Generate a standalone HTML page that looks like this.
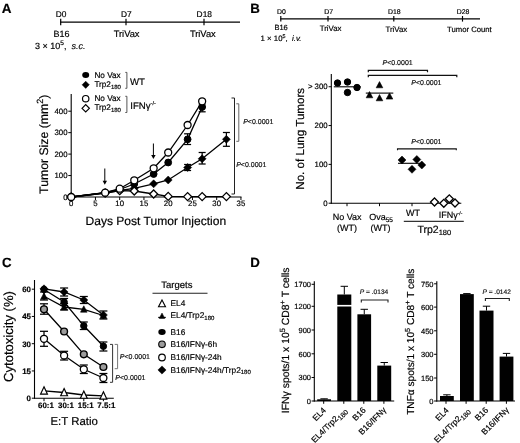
<!DOCTYPE html>
<html><head><meta charset="utf-8"><title>Figure</title>
<style>
html,body{margin:0;padding:0;background:#fff;}
body{width:520px;height:443px;overflow:hidden;}
svg{display:block;font-family:"Liberation Sans",sans-serif;opacity:0.999;will-change:transform;}
svg text{white-space:pre;stroke:#000;stroke-width:0.18px;text-rendering:geometricPrecision;}
</style></head><body>
<svg width="520" height="443" viewBox="0 0 520 443">
<rect width="520" height="443" fill="#fff"/>
<text x="1.8" y="13.3" font-size="13.5" text-anchor="start" font-weight="bold" font-style="normal" fill="#000" >A</text>
<line x1="60.2" y1="22.1" x2="240" y2="22.1" stroke="#000" stroke-width="1.3" />
<line x1="60.7" y1="18.8" x2="60.7" y2="25.2" stroke="#000" stroke-width="1.2" />
<text x="61.0" y="17" font-size="8.4" text-anchor="middle" font-weight="normal" font-style="normal" fill="#000" >D0</text>
<line x1="126" y1="18.8" x2="126" y2="25.2" stroke="#000" stroke-width="1.2" />
<text x="126.3" y="17" font-size="8.4" text-anchor="middle" font-weight="normal" font-style="normal" fill="#000" >D7</text>
<line x1="204" y1="18.8" x2="204" y2="25.2" stroke="#000" stroke-width="1.2" />
<text x="204.3" y="17" font-size="8.4" text-anchor="middle" font-weight="normal" font-style="normal" fill="#000" >D18</text>
<text x="61.5" y="37" font-size="9" text-anchor="middle" font-weight="normal" font-style="normal" fill="#000" >B16</text>
<text x="126.6" y="37" font-size="9.3" text-anchor="middle" font-weight="normal" font-style="normal" fill="#000" >TriVax</text>
<text x="202.8" y="37" font-size="9.3" text-anchor="middle" font-weight="normal" font-style="normal" fill="#000" >TriVax</text>
<text x="35" y="48.7" font-size="9" text-anchor="start" font-weight="normal" font-style="normal" fill="#000" >3 × 10<tspan font-size="6.5" dy="-3.5">5</tspan><tspan dy="3.5" font-size="9">, </tspan><tspan font-style="italic" font-size="9"> s.c.</tspan></text>
<ellipse cx="85.7" cy="75" rx="3.5" ry="2.9" fill="#000"/>
<text x="94.4" y="77.5" font-size="8.2" text-anchor="start" font-weight="normal" font-style="normal" fill="#000" >No Vax</text>
<path d="M82.10000000000001 84.8L85.7 81.2L89.3 84.8L85.7 88.39999999999999Z" fill="#000" stroke="#000" stroke-width="0.5"/>
<text x="94.4" y="87.3" font-size="8.2" text-anchor="start" font-weight="normal" font-style="normal" fill="#000" >Trp2<tspan font-size="6" dy="1.8">180</tspan></text>
<polyline points="125.3,72.4 126.9,72.4 126.9,88.3 125.3,88.3" fill="none" stroke="#555" stroke-width="1"/>
<text x="130" y="84.7" font-size="9.6" text-anchor="start" font-weight="normal" font-style="normal" fill="#000" >WT</text>
<circle cx="85.7" cy="98.7" r="3.2" fill="#fff" stroke="#000" stroke-width="1.2"/>
<text x="94.4" y="100.6" font-size="8.2" text-anchor="start" font-weight="normal" font-style="normal" fill="#000" >No Vax</text>
<path d="M82.0 108.3L85.7 104.6L89.4 108.3L85.7 112.0Z" fill="#fff" stroke="#000" stroke-width="1.2"/>
<text x="94.4" y="110.3" font-size="8.2" text-anchor="start" font-weight="normal" font-style="normal" fill="#000" >Trp2<tspan font-size="6" dy="1.8">180</tspan></text>
<polyline points="125.3,96.3 126.9,96.3 126.9,112.5 125.3,112.5" fill="none" stroke="#555" stroke-width="1"/>
<text x="130.3" y="108.7" font-size="9.6" text-anchor="start" font-weight="normal" font-style="normal" fill="#000" >IFNγ<tspan font-size="5.5" dy="-4">-/-</tspan></text>
<line x1="71.2" y1="94" x2="71.2" y2="197.5" stroke="#000" stroke-width="1.1" />
<line x1="70.7" y1="197" x2="241.5" y2="197" stroke="#000" stroke-width="1.1" />
<line x1="68.3" y1="197.0" x2="71.2" y2="197.0" stroke="#000" stroke-width="1" />
<text x="67.5" y="199.8" font-size="7.8" text-anchor="end" font-weight="normal" font-style="normal" fill="#000" >0</text>
<line x1="68.3" y1="175.55" x2="71.2" y2="175.55" stroke="#000" stroke-width="1" />
<text x="67.5" y="178.35000000000002" font-size="7.8" text-anchor="end" font-weight="normal" font-style="normal" fill="#000" >100</text>
<line x1="68.3" y1="154.1" x2="71.2" y2="154.1" stroke="#000" stroke-width="1" />
<text x="67.5" y="156.9" font-size="7.8" text-anchor="end" font-weight="normal" font-style="normal" fill="#000" >200</text>
<line x1="68.3" y1="132.65" x2="71.2" y2="132.65" stroke="#000" stroke-width="1" />
<text x="67.5" y="135.45000000000002" font-size="7.8" text-anchor="end" font-weight="normal" font-style="normal" fill="#000" >300</text>
<line x1="68.3" y1="111.2" x2="71.2" y2="111.2" stroke="#000" stroke-width="1" />
<text x="67.5" y="114.0" font-size="7.8" text-anchor="end" font-weight="normal" font-style="normal" fill="#000" >400</text>
<line x1="71.2" y1="197" x2="71.2" y2="200" stroke="#000" stroke-width="1" />
<text x="71.2" y="206.4" font-size="7.8" text-anchor="middle" font-weight="normal" font-style="normal" fill="#000" >0</text>
<line x1="95.45" y1="197" x2="95.45" y2="200" stroke="#000" stroke-width="1" />
<text x="95.45" y="206.4" font-size="7.8" text-anchor="middle" font-weight="normal" font-style="normal" fill="#000" >5</text>
<line x1="119.7" y1="197" x2="119.7" y2="200" stroke="#000" stroke-width="1" />
<text x="119.7" y="206.4" font-size="7.8" text-anchor="middle" font-weight="normal" font-style="normal" fill="#000" >10</text>
<line x1="143.95" y1="197" x2="143.95" y2="200" stroke="#000" stroke-width="1" />
<text x="143.95" y="206.4" font-size="7.8" text-anchor="middle" font-weight="normal" font-style="normal" fill="#000" >15</text>
<line x1="168.2" y1="197" x2="168.2" y2="200" stroke="#000" stroke-width="1" />
<text x="168.2" y="206.4" font-size="7.8" text-anchor="middle" font-weight="normal" font-style="normal" fill="#000" >20</text>
<line x1="192.45" y1="197" x2="192.45" y2="200" stroke="#000" stroke-width="1" />
<text x="192.45" y="206.4" font-size="7.8" text-anchor="middle" font-weight="normal" font-style="normal" fill="#000" >25</text>
<line x1="216.7" y1="197" x2="216.7" y2="200" stroke="#000" stroke-width="1" />
<text x="216.7" y="206.4" font-size="7.8" text-anchor="middle" font-weight="normal" font-style="normal" fill="#000" >30</text>
<line x1="240.95" y1="197" x2="240.95" y2="200" stroke="#000" stroke-width="1" />
<text x="240.95" y="206.4" font-size="7.8" text-anchor="middle" font-weight="normal" font-style="normal" fill="#000" >35</text>
<text x="0" y="0" font-size="12.25" text-anchor="middle" font-weight="normal" font-style="normal" fill="#000" transform="translate(48.3,144.3) rotate(-90)">Tumor Size (mm<tspan font-size="9" dy="-5.2">2</tspan><tspan dy="5.2" font-size="12.25">)</tspan></text>
<text x="85.5" y="225" font-size="12.05" text-anchor="start" font-weight="normal" font-style="normal" fill="#000" >Days Post Tumor Injection</text>
<line x1="104.8" y1="168.5" x2="104.8" y2="182.8" stroke="#000" stroke-width="1" />
<path d="M102.6 180.8L104.8 184.8L107.0 180.8Z" fill="#000"/>
<line x1="153.4" y1="143.5" x2="153.4" y2="157" stroke="#000" stroke-width="1" />
<path d="M151.20000000000002 155L153.4 159L155.6 155Z" fill="#000"/>
<polyline points="71.2,197 105.15,193 119.7,190.5 134.25,188.3 153.65,183.8 168.2,180 187.6,167.5 202.15,158.8 226.4,139.3" fill="none" stroke="#000" stroke-width="1.3"/>
<polyline points="71.2,197 105.15,192.7 119.7,189.5 134.25,184 153.65,174 168.2,162.5 187.6,139.3 202.15,107" fill="none" stroke="#000" stroke-width="1.3"/>
<polyline points="71.2,197 105.15,192.7 119.7,188.7 134.25,180.3 153.65,168.3 168.2,152.5 187.6,125 202.15,101.3" fill="none" stroke="#000" stroke-width="1.3"/>
<polyline points="71.2,197 105.15,193 119.7,190.7 134.25,191 153.65,194 168.2,196.4 187.6,196.6 202.15,196.6 226.4,196.6" fill="none" stroke="#000" stroke-width="1.3"/>
<line x1="187.6" y1="164.5" x2="187.6" y2="170.5" stroke="#000" stroke-width="1.25" />
<line x1="184.1" y1="164.5" x2="191.1" y2="164.5" stroke="#000" stroke-width="1.25" />
<line x1="184.1" y1="170.5" x2="191.1" y2="170.5" stroke="#000" stroke-width="1.25" />
<line x1="202.15" y1="152.5" x2="202.15" y2="164" stroke="#000" stroke-width="1.25" />
<line x1="198.65" y1="152.5" x2="205.65" y2="152.5" stroke="#000" stroke-width="1.25" />
<line x1="198.65" y1="164" x2="205.65" y2="164" stroke="#000" stroke-width="1.25" />
<line x1="226.4" y1="132.5" x2="226.4" y2="146.3" stroke="#000" stroke-width="1.25" />
<line x1="222.9" y1="132.5" x2="229.9" y2="132.5" stroke="#000" stroke-width="1.25" />
<line x1="222.9" y1="146.3" x2="229.9" y2="146.3" stroke="#000" stroke-width="1.25" />
<line x1="187.6" y1="133.8" x2="187.6" y2="144.5" stroke="#000" stroke-width="1.25" />
<line x1="184.1" y1="133.8" x2="191.1" y2="133.8" stroke="#000" stroke-width="1.25" />
<line x1="184.1" y1="144.5" x2="191.1" y2="144.5" stroke="#000" stroke-width="1.25" />
<line x1="202.15" y1="104" x2="202.15" y2="111.8" stroke="#000" stroke-width="1.25" />
<line x1="198.65" y1="104" x2="205.65" y2="104" stroke="#000" stroke-width="1.25" />
<line x1="198.65" y1="111.8" x2="205.65" y2="111.8" stroke="#000" stroke-width="1.25" />
<path d="M67.2 197L71.2 193L75.2 197L71.2 201Z" fill="#000" stroke="#000" stroke-width="0.5"/>
<path d="M101.15 193L105.15 189L109.15 193L105.15 197Z" fill="#000" stroke="#000" stroke-width="0.5"/>
<path d="M115.7 190.5L119.7 186.5L123.7 190.5L119.7 194.5Z" fill="#000" stroke="#000" stroke-width="0.5"/>
<path d="M130.25 188.3L134.25 184.3L138.25 188.3L134.25 192.3Z" fill="#000" stroke="#000" stroke-width="0.5"/>
<path d="M149.65 183.8L153.65 179.8L157.65 183.8L153.65 187.8Z" fill="#000" stroke="#000" stroke-width="0.5"/>
<path d="M164.2 180L168.2 176L172.2 180L168.2 184Z" fill="#000" stroke="#000" stroke-width="0.5"/>
<path d="M183.6 167.5L187.6 163.5L191.6 167.5L187.6 171.5Z" fill="#000" stroke="#000" stroke-width="0.5"/>
<path d="M198.15 158.8L202.15 154.8L206.15 158.8L202.15 162.8Z" fill="#000" stroke="#000" stroke-width="0.5"/>
<path d="M222.4 139.3L226.4 135.3L230.4 139.3L226.4 143.3Z" fill="#000" stroke="#000" stroke-width="0.5"/>
<circle cx="71.2" cy="197" r="3.4" fill="#000" stroke="#000" stroke-width="1"/>
<circle cx="105.15" cy="192.7" r="3.4" fill="#000" stroke="#000" stroke-width="1"/>
<circle cx="119.7" cy="189.5" r="3.4" fill="#000" stroke="#000" stroke-width="1"/>
<circle cx="134.25" cy="184" r="3.4" fill="#000" stroke="#000" stroke-width="1"/>
<circle cx="153.65" cy="174" r="3.4" fill="#000" stroke="#000" stroke-width="1"/>
<circle cx="168.2" cy="162.5" r="3.4" fill="#000" stroke="#000" stroke-width="1"/>
<circle cx="187.6" cy="139.3" r="3.4" fill="#000" stroke="#000" stroke-width="1"/>
<circle cx="202.15" cy="107" r="3.4" fill="#000" stroke="#000" stroke-width="1"/>
<path d="M67.2 197L71.2 193L75.2 197L71.2 201Z" fill="#fff" stroke="#000" stroke-width="1.3"/>
<path d="M101.15 193L105.15 189L109.15 193L105.15 197Z" fill="#fff" stroke="#000" stroke-width="1.3"/>
<path d="M115.7 190.7L119.7 186.7L123.7 190.7L119.7 194.7Z" fill="#fff" stroke="#000" stroke-width="1.3"/>
<path d="M130.25 191L134.25 187L138.25 191L134.25 195Z" fill="#fff" stroke="#000" stroke-width="1.3"/>
<path d="M149.65 194L153.65 190L157.65 194L153.65 198Z" fill="#fff" stroke="#000" stroke-width="1.3"/>
<path d="M164.2 196.4L168.2 192.4L172.2 196.4L168.2 200.4Z" fill="#fff" stroke="#000" stroke-width="1.3"/>
<path d="M183.6 196.6L187.6 192.6L191.6 196.6L187.6 200.6Z" fill="#fff" stroke="#000" stroke-width="1.3"/>
<path d="M198.15 196.6L202.15 192.6L206.15 196.6L202.15 200.6Z" fill="#fff" stroke="#000" stroke-width="1.3"/>
<path d="M222.4 196.6L226.4 192.6L230.4 196.6L226.4 200.6Z" fill="#fff" stroke="#000" stroke-width="1.3"/>
<circle cx="71.2" cy="197" r="3.5" fill="#fff" stroke="#000" stroke-width="1.3"/>
<circle cx="105.15" cy="192.7" r="3.5" fill="#fff" stroke="#000" stroke-width="1.3"/>
<circle cx="119.7" cy="188.7" r="3.5" fill="#fff" stroke="#000" stroke-width="1.3"/>
<circle cx="134.25" cy="180.3" r="3.5" fill="#fff" stroke="#000" stroke-width="1.3"/>
<circle cx="153.65" cy="168.3" r="3.5" fill="#fff" stroke="#000" stroke-width="1.3"/>
<circle cx="168.2" cy="152.5" r="3.5" fill="#fff" stroke="#000" stroke-width="1.3"/>
<circle cx="187.6" cy="125" r="3.5" fill="#fff" stroke="#000" stroke-width="1.3"/>
<circle cx="202.15" cy="101.3" r="3.5" fill="#fff" stroke="#000" stroke-width="1.3"/>
<polyline points="231.5,98 234.5,98 234.5,194 231.5,194" fill="none" stroke="#222" stroke-width="1"/>
<polyline points="236.3,103.8 238.8,103.8 238.8,141.3 236.3,141.3" fill="none" stroke="#666" stroke-width="1"/>
<text x="243.2" y="123.6" font-size="7" text-anchor="start" font-weight="normal" font-style="normal" fill="#222" ><tspan font-style="italic">P</tspan>&lt;0.0001</text>
<text x="236.2" y="167" font-size="7" text-anchor="start" font-weight="normal" font-style="normal" fill="#222" ><tspan font-style="italic">P</tspan>&lt;0.0001</text>
<text x="250.3" y="12.6" font-size="13.3" text-anchor="start" font-weight="bold" font-style="normal" fill="#000" >B</text>
<line x1="280.3" y1="18.8" x2="480" y2="18.8" stroke="#000" stroke-width="1.25" />
<line x1="280.8" y1="16" x2="280.8" y2="21.6" stroke="#000" stroke-width="1.15" />
<text x="281.40000000000003" y="13.8" font-size="6.9" text-anchor="middle" font-weight="normal" font-style="normal" fill="#000" >D0</text>
<line x1="328" y1="16" x2="328" y2="21.6" stroke="#000" stroke-width="1.15" />
<text x="328.6" y="13.8" font-size="6.9" text-anchor="middle" font-weight="normal" font-style="normal" fill="#000" >D7</text>
<line x1="393.8" y1="16" x2="393.8" y2="21.6" stroke="#000" stroke-width="1.15" />
<text x="394.40000000000003" y="13.8" font-size="6.9" text-anchor="middle" font-weight="normal" font-style="normal" fill="#000" >D18</text>
<line x1="462.5" y1="16" x2="462.5" y2="21.6" stroke="#000" stroke-width="1.15" />
<text x="463.1" y="13.8" font-size="6.9" text-anchor="middle" font-weight="normal" font-style="normal" fill="#000" >D28</text>
<text x="281.1" y="30.0" font-size="7.5" text-anchor="middle" font-weight="normal" font-style="normal" fill="#000" >B16</text>
<text x="330.6" y="30.8" font-size="7.8" text-anchor="middle" font-weight="normal" font-style="normal" fill="#000" >TriVax</text>
<text x="396.3" y="31.5" font-size="7.8" text-anchor="middle" font-weight="normal" font-style="normal" fill="#000" >TriVax</text>
<text x="469.4" y="31.7" font-size="7.7" text-anchor="middle" font-weight="normal" font-style="normal" fill="#000" >Tumor Count</text>
<text x="260.6" y="41.2" font-size="7.8" text-anchor="start" font-weight="normal" font-style="normal" fill="#000" >1 × 10<tspan font-size="5.4" dy="-3">5</tspan><tspan dy="3" font-size="7.8">, </tspan><tspan font-style="italic" font-size="7.8"> i.v.</tspan></text>
<line x1="331.3" y1="74" x2="331.3" y2="203.7" stroke="#000" stroke-width="1.1" />
<line x1="330.8" y1="203.2" x2="461.3" y2="203.2" stroke="#000" stroke-width="1.1" />
<line x1="328.6" y1="203.2" x2="331.3" y2="203.2" stroke="#000" stroke-width="1" />
<text x="327.6" y="205.89999999999998" font-size="7.8" text-anchor="end" font-weight="normal" font-style="normal" fill="#000" >0</text>
<line x1="328.6" y1="164.38" x2="331.3" y2="164.38" stroke="#000" stroke-width="1" />
<text x="327.6" y="167.07999999999998" font-size="7.8" text-anchor="end" font-weight="normal" font-style="normal" fill="#000" >100</text>
<line x1="328.6" y1="125.56" x2="331.3" y2="125.56" stroke="#000" stroke-width="1" />
<text x="327.6" y="128.26" font-size="7.8" text-anchor="end" font-weight="normal" font-style="normal" fill="#000" >200</text>
<line x1="328.6" y1="86.74" x2="331.3" y2="86.74" stroke="#000" stroke-width="1" />
<text x="327.6" y="89.44" font-size="7.8" text-anchor="end" font-weight="normal" font-style="normal" fill="#000" >300</text>
<text x="308" y="88.75" font-size="7.8" text-anchor="start" font-weight="normal" font-style="normal" fill="#000" >&gt;</text>
<line x1="347" y1="203.2" x2="347" y2="206.2" stroke="#000" stroke-width="1" />
<line x1="379.5" y1="203.2" x2="379.5" y2="206.2" stroke="#000" stroke-width="1" />
<line x1="412" y1="203.2" x2="412" y2="206.2" stroke="#000" stroke-width="1" />
<line x1="444.5" y1="203.2" x2="444.5" y2="206.2" stroke="#000" stroke-width="1" />
<text x="0" y="0" font-size="11.6" text-anchor="middle" font-weight="normal" font-style="normal" fill="#000" transform="translate(304.3,138.8) rotate(-90)">No. of Lung Tumors</text>
<text x="347.2" y="220" font-size="9" text-anchor="middle" font-weight="normal" font-style="normal" fill="#000" >No Vax</text>
<text x="347" y="230.6" font-size="9" text-anchor="middle" font-weight="normal" font-style="normal" fill="#000" >(WT)</text>
<text x="381" y="220" font-size="9" text-anchor="middle" font-weight="normal" font-style="normal" fill="#000" >Ova<tspan font-size="6.5" dy="1.8">55</tspan></text>
<text x="380.6" y="230.6" font-size="9" text-anchor="middle" font-weight="normal" font-style="normal" fill="#000" >(WT)</text>
<text x="413" y="216.3" font-size="9" text-anchor="middle" font-weight="normal" font-style="normal" fill="#000" >WT</text>
<text x="438.7" y="218" font-size="9" text-anchor="start" font-weight="normal" font-style="normal" fill="#000" >IFNγ<tspan font-size="5" dy="-3.5">-/-</tspan></text>
<line x1="403.8" y1="221.3" x2="463.8" y2="221.3" stroke="#000" stroke-width="1" />
<text x="417.5" y="232.8" font-size="10.5" text-anchor="start" font-weight="normal" font-style="normal" fill="#000" >Trp2<tspan font-size="7.5" dy="2">180</tspan></text>
<line x1="333.8" y1="86.8" x2="360.8" y2="86.8" stroke="#000" stroke-width="1.1" />
<circle cx="337.5" cy="83" r="3.2" fill="#000" stroke="#000" stroke-width="1"/>
<circle cx="347.5" cy="82" r="3.2" fill="#000" stroke="#000" stroke-width="1"/>
<circle cx="347.5" cy="92.5" r="3.2" fill="#000" stroke="#000" stroke-width="1"/>
<circle cx="357" cy="87.5" r="3.2" fill="#000" stroke="#000" stroke-width="1"/>
<line x1="365.8" y1="93.1" x2="393.3" y2="93.1" stroke="#000" stroke-width="1.1" />
<path d="M379.5 81.59L382.8 87.79L376.2 87.79Z" fill="#000" stroke="#000" stroke-width="0.6" stroke-linejoin="miter"/>
<path d="M369.5 91.59L372.8 97.79L366.2 97.79Z" fill="#000" stroke="#000" stroke-width="0.6" stroke-linejoin="miter"/>
<path d="M379.5 94.59L382.8 100.79L376.2 100.79Z" fill="#000" stroke="#000" stroke-width="0.6" stroke-linejoin="miter"/>
<path d="M389.5 92.89L392.8 99.09L386.2 99.09Z" fill="#000" stroke="#000" stroke-width="0.6" stroke-linejoin="miter"/>
<line x1="398" y1="163.3" x2="422.5" y2="163.3" stroke="#000" stroke-width="1.1" />
<path d="M398 160L402 156L406 160L402 164Z" fill="#000" stroke="#000" stroke-width="0.5"/>
<path d="M408 169.3L412 165.3L416 169.3L412 173.3Z" fill="#000" stroke="#000" stroke-width="0.5"/>
<path d="M412.8 159.5L416.8 155.5L420.8 159.5L416.8 163.5Z" fill="#000" stroke="#000" stroke-width="0.5"/>
<path d="M417.8 165L421.8 161L425.8 165L421.8 169Z" fill="#000" stroke="#000" stroke-width="0.5"/>
<path d="M430.5 202L434.5 198L438.5 202L434.5 206Z" fill="#fff" stroke="#000" stroke-width="1.3"/>
<path d="M439.8 203.3L443.8 199.3L447.8 203.3L443.8 207.3Z" fill="#fff" stroke="#000" stroke-width="1.3"/>
<path d="M451 203L455 199L459 203L455 207Z" fill="#fff" stroke="#000" stroke-width="1.3"/>
<path d="M445.3 198.8L449.3 194.8L453.3 198.8L449.3 202.8Z" fill="#fff" stroke="#000" stroke-width="1.3"/>
<polyline points="368.3,72.2 368.3,70.3 427.5,70.3 427.5,72.2" fill="none" stroke="#111" stroke-width="1.2"/>
<polyline points="368.3,77.2 368.3,75.3 456.8,75.3 456.8,77.2" fill="none" stroke="#111" stroke-width="1.2"/>
<polyline points="397.5,150.3 397.5,148.9 456.3,148.9 456.3,150.3" fill="none" stroke="#111" stroke-width="1.1"/>
<text x="382.5" y="65" font-size="7" text-anchor="start" font-weight="normal" font-style="normal" fill="#222" ><tspan font-style="italic">P</tspan>&lt;0.0001</text>
<text x="411.3" y="84.5" font-size="7" text-anchor="start" font-weight="normal" font-style="normal" fill="#222" ><tspan font-style="italic">P</tspan>&lt;0.0001</text>
<text x="411.3" y="143.5" font-size="7" text-anchor="start" font-weight="normal" font-style="normal" fill="#222" ><tspan font-style="italic">P</tspan>&lt;0.0001</text>
<text x="2.0" y="267.2" font-size="13.3" text-anchor="start" font-weight="bold" font-style="normal" fill="#000" >C</text>
<line x1="34.5" y1="280" x2="34.5" y2="398.7" stroke="#000" stroke-width="1.1" />
<line x1="34.0" y1="398.2" x2="113.8" y2="398.2" stroke="#000" stroke-width="1.1" />
<line x1="31.8" y1="398.2" x2="34.5" y2="398.2" stroke="#000" stroke-width="1" />
<text x="31" y="401.05" font-size="7.9" text-anchor="end" font-weight="bold" font-style="normal" fill="#000" >0</text>
<line x1="31.8" y1="370.95" x2="34.5" y2="370.95" stroke="#000" stroke-width="1" />
<text x="31" y="373.8" font-size="7.9" text-anchor="end" font-weight="bold" font-style="normal" fill="#000" >15</text>
<line x1="31.8" y1="343.7" x2="34.5" y2="343.7" stroke="#000" stroke-width="1" />
<text x="31" y="346.55" font-size="7.9" text-anchor="end" font-weight="bold" font-style="normal" fill="#000" >30</text>
<line x1="31.8" y1="316.45" x2="34.5" y2="316.45" stroke="#000" stroke-width="1" />
<text x="31" y="319.3" font-size="7.9" text-anchor="end" font-weight="bold" font-style="normal" fill="#000" >45</text>
<line x1="31.8" y1="289.2" x2="34.5" y2="289.2" stroke="#000" stroke-width="1" />
<text x="31" y="292.05" font-size="7.9" text-anchor="end" font-weight="bold" font-style="normal" fill="#000" >60</text>
<line x1="44.0" y1="398.2" x2="44.0" y2="401.2" stroke="#000" stroke-width="1" />
<text x="45.9" y="407.9" font-size="7.9" text-anchor="middle" font-weight="bold" font-style="normal" fill="#000" >60:1</text>
<line x1="64.1" y1="398.2" x2="64.1" y2="401.2" stroke="#000" stroke-width="1" />
<text x="66.0" y="407.9" font-size="7.9" text-anchor="middle" font-weight="bold" font-style="normal" fill="#000" >30:1</text>
<line x1="83.8" y1="398.2" x2="83.8" y2="401.2" stroke="#000" stroke-width="1" />
<text x="85.7" y="407.9" font-size="7.9" text-anchor="middle" font-weight="bold" font-style="normal" fill="#000" >15:1</text>
<line x1="103.4" y1="398.2" x2="103.4" y2="401.2" stroke="#000" stroke-width="1" />
<text x="106.30000000000001" y="407.9" font-size="7.9" text-anchor="middle" font-weight="bold" font-style="normal" fill="#000" >7.5:1</text>
<text x="0" y="0" font-size="13.1" text-anchor="middle" font-weight="normal" font-style="normal" fill="#000" transform="translate(12.8,336.5) rotate(-90)">Cytotoxicity (%)</text>
<text x="50.5" y="425.3" font-size="11.4" text-anchor="start" font-weight="normal" font-style="normal" fill="#000" >E:T Ratio</text>
<polyline points="44.0,288.8 64.1,292 83.8,300 103.4,315" fill="none" stroke="#000" stroke-width="1.3"/>
<polyline points="44.0,296.3 64.1,307 83.8,309.3 103.4,315.5" fill="none" stroke="#000" stroke-width="1.3"/>
<polyline points="44.0,289.5 64.1,302 83.8,325.8 103.4,346.3" fill="none" stroke="#000" stroke-width="1.3"/>
<polyline points="44.0,309.3 64.1,331.5 83.8,354.3 103.4,367" fill="none" stroke="#000" stroke-width="1.3"/>
<polyline points="44.0,338.8 64.1,355.5 83.8,369.3 103.4,378" fill="none" stroke="#000" stroke-width="1.3"/>
<polyline points="44.0,390.8 64.1,392.5 83.8,395 103.4,395.8" fill="none" stroke="#000" stroke-width="1.3"/>
<line x1="64.1" y1="288" x2="64.1" y2="296" stroke="#000" stroke-width="1.25" />
<line x1="60.099999999999994" y1="288" x2="68.1" y2="288" stroke="#000" stroke-width="1.25" />
<line x1="60.099999999999994" y1="296" x2="68.1" y2="296" stroke="#000" stroke-width="1.25" />
<line x1="83.8" y1="296.5" x2="83.8" y2="303.5" stroke="#000" stroke-width="1.25" />
<line x1="79.8" y1="296.5" x2="87.8" y2="296.5" stroke="#000" stroke-width="1.25" />
<line x1="79.8" y1="303.5" x2="87.8" y2="303.5" stroke="#000" stroke-width="1.25" />
<line x1="103.4" y1="311" x2="103.4" y2="319" stroke="#000" stroke-width="1.25" />
<line x1="99.4" y1="311" x2="107.4" y2="311" stroke="#000" stroke-width="1.25" />
<line x1="99.4" y1="319" x2="107.4" y2="319" stroke="#000" stroke-width="1.25" />
<line x1="44.0" y1="292" x2="44.0" y2="300" stroke="#000" stroke-width="1.25" />
<line x1="40.0" y1="292" x2="48.0" y2="292" stroke="#000" stroke-width="1.25" />
<line x1="40.0" y1="300" x2="48.0" y2="300" stroke="#000" stroke-width="1.25" />
<line x1="64.1" y1="303.5" x2="64.1" y2="310" stroke="#000" stroke-width="1.25" />
<line x1="60.099999999999994" y1="303.5" x2="68.1" y2="303.5" stroke="#000" stroke-width="1.25" />
<line x1="60.099999999999994" y1="310" x2="68.1" y2="310" stroke="#000" stroke-width="1.25" />
<line x1="64.1" y1="298.5" x2="64.1" y2="305.5" stroke="#000" stroke-width="1.25" />
<line x1="60.099999999999994" y1="298.5" x2="68.1" y2="298.5" stroke="#000" stroke-width="1.25" />
<line x1="60.099999999999994" y1="305.5" x2="68.1" y2="305.5" stroke="#000" stroke-width="1.25" />
<line x1="83.8" y1="322" x2="83.8" y2="329.5" stroke="#000" stroke-width="1.25" />
<line x1="79.8" y1="322" x2="87.8" y2="322" stroke="#000" stroke-width="1.25" />
<line x1="79.8" y1="329.5" x2="87.8" y2="329.5" stroke="#000" stroke-width="1.25" />
<line x1="103.4" y1="342" x2="103.4" y2="351" stroke="#000" stroke-width="1.25" />
<line x1="99.4" y1="342" x2="107.4" y2="342" stroke="#000" stroke-width="1.25" />
<line x1="99.4" y1="351" x2="107.4" y2="351" stroke="#000" stroke-width="1.25" />
<line x1="44.0" y1="303.8" x2="44.0" y2="314.2" stroke="#000" stroke-width="1.25" />
<line x1="40.0" y1="303.8" x2="48.0" y2="303.8" stroke="#000" stroke-width="1.25" />
<line x1="40.0" y1="314.2" x2="48.0" y2="314.2" stroke="#000" stroke-width="1.25" />
<line x1="44.0" y1="331.3" x2="44.0" y2="346.3" stroke="#000" stroke-width="1.25" />
<line x1="40.0" y1="331.3" x2="48.0" y2="331.3" stroke="#000" stroke-width="1.25" />
<line x1="40.0" y1="346.3" x2="48.0" y2="346.3" stroke="#000" stroke-width="1.25" />
<line x1="64.1" y1="351.3" x2="64.1" y2="360" stroke="#000" stroke-width="1.25" />
<line x1="60.099999999999994" y1="351.3" x2="68.1" y2="351.3" stroke="#000" stroke-width="1.25" />
<line x1="60.099999999999994" y1="360" x2="68.1" y2="360" stroke="#000" stroke-width="1.25" />
<line x1="83.8" y1="365" x2="83.8" y2="373.5" stroke="#000" stroke-width="1.25" />
<line x1="79.8" y1="365" x2="87.8" y2="365" stroke="#000" stroke-width="1.25" />
<line x1="79.8" y1="373.5" x2="87.8" y2="373.5" stroke="#000" stroke-width="1.25" />
<line x1="103.4" y1="373.5" x2="103.4" y2="382.5" stroke="#000" stroke-width="1.25" />
<line x1="99.4" y1="373.5" x2="107.4" y2="373.5" stroke="#000" stroke-width="1.25" />
<line x1="99.4" y1="382.5" x2="107.4" y2="382.5" stroke="#000" stroke-width="1.25" />
<path d="M44.0 386.84L47.4 394.04L40.6 394.04Z" fill="#fff" stroke="#000" stroke-width="1.2" stroke-linejoin="miter"/>
<path d="M64.1 388.54L67.5 395.74L60.699999999999996 395.74Z" fill="#fff" stroke="#000" stroke-width="1.2" stroke-linejoin="miter"/>
<path d="M83.8 391.04L87.2 398.24L80.39999999999999 398.24Z" fill="#fff" stroke="#000" stroke-width="1.2" stroke-linejoin="miter"/>
<path d="M103.4 391.84L106.80000000000001 399.04L100.0 399.04Z" fill="#fff" stroke="#000" stroke-width="1.2" stroke-linejoin="miter"/>
<path d="M44.0 292.78L47.3 299.18L40.7 299.18Z" fill="#000" stroke="#000" stroke-width="0.6" stroke-linejoin="miter"/>
<path d="M64.1 303.48L67.39999999999999 309.88L60.8 309.88Z" fill="#000" stroke="#000" stroke-width="0.6" stroke-linejoin="miter"/>
<path d="M83.8 305.78L87.1 312.18L80.5 312.18Z" fill="#000" stroke="#000" stroke-width="0.6" stroke-linejoin="miter"/>
<path d="M103.4 311.98L106.7 318.38L100.10000000000001 318.38Z" fill="#000" stroke="#000" stroke-width="0.6" stroke-linejoin="miter"/>
<circle cx="44.0" cy="289.5" r="3.2" fill="#000" stroke="#000" stroke-width="1"/>
<circle cx="64.1" cy="302" r="3.2" fill="#000" stroke="#000" stroke-width="1"/>
<circle cx="83.8" cy="325.8" r="3.2" fill="#000" stroke="#000" stroke-width="1"/>
<circle cx="103.4" cy="346.3" r="3.2" fill="#000" stroke="#000" stroke-width="1"/>
<path d="M40.0 288.8L44.0 284.8L48.0 288.8L44.0 292.8Z" fill="#000" stroke="#000" stroke-width="0.5"/>
<path d="M60.099999999999994 292L64.1 288L68.1 292L64.1 296Z" fill="#000" stroke="#000" stroke-width="0.5"/>
<path d="M79.8 300L83.8 296L87.8 300L83.8 304Z" fill="#000" stroke="#000" stroke-width="0.5"/>
<path d="M99.4 315L103.4 311L107.4 315L103.4 319Z" fill="#000" stroke="#000" stroke-width="0.5"/>
<circle cx="44.0" cy="309.3" r="3.4" fill="#9c9c9c" stroke="#000" stroke-width="1.4"/>
<circle cx="64.1" cy="331.5" r="3.4" fill="#9c9c9c" stroke="#000" stroke-width="1.4"/>
<circle cx="83.8" cy="354.3" r="3.4" fill="#9c9c9c" stroke="#000" stroke-width="1.4"/>
<circle cx="103.4" cy="367" r="3.4" fill="#9c9c9c" stroke="#000" stroke-width="1.4"/>
<circle cx="44.0" cy="338.8" r="3.5" fill="#fff" stroke="#000" stroke-width="1.3"/>
<circle cx="64.1" cy="355.5" r="3.5" fill="#fff" stroke="#000" stroke-width="1.3"/>
<circle cx="83.8" cy="369.3" r="3.5" fill="#fff" stroke="#000" stroke-width="1.3"/>
<circle cx="103.4" cy="378" r="3.5" fill="#fff" stroke="#000" stroke-width="1.3"/>
<polyline points="110,344.4 112.6,344.4 112.6,382.3 110,382.3" fill="none" stroke="#333" stroke-width="1"/>
<polyline points="114.7,344.4 117.6,344.4 117.6,368.7 114.7,368.7" fill="none" stroke="#777" stroke-width="1"/>
<text x="119.8" y="358.8" font-size="7" text-anchor="start" font-weight="normal" font-style="normal" fill="#222" ><tspan font-style="italic">P</tspan>&lt;0.0001</text>
<text x="115.3" y="379.6" font-size="7" text-anchor="start" font-weight="normal" font-style="normal" fill="#222" ><tspan font-style="italic">P</tspan>&lt;0.0001</text>
<text x="161.3" y="287.5" font-size="9.5" text-anchor="start" font-weight="normal" font-style="normal" fill="#000" >Targets</text>
<line x1="152.5" y1="293.2" x2="207.5" y2="293.2" stroke="#222" stroke-width="1.1" />
<path d="M162 299.96L165.5 306.76L158.5 306.76Z" fill="#fff" stroke="#000" stroke-width="1.1" stroke-linejoin="miter"/>
<text x="170.5" y="305.8" font-size="8.3" text-anchor="start" font-weight="normal" font-style="normal" fill="#000" >EL4</text>
<line x1="158.2" y1="317.4" x2="165.8" y2="317.4" stroke="#000" stroke-width="1.1" />
<path d="M162 313.03L164.8 318.43L159.2 318.43Z" fill="#000" stroke="#000" stroke-width="0.5" stroke-linejoin="miter"/>
<text x="170.5" y="318" font-size="8.3" text-anchor="start" font-weight="normal" font-style="normal" fill="#000" >EL4/Trp2<tspan font-size="6" dy="1.8">180</tspan></text>
<ellipse cx="162" cy="332" rx="3.7" ry="3.0" fill="#000"/>
<text x="170.5" y="334.5" font-size="8.3" text-anchor="start" font-weight="normal" font-style="normal" fill="#000" >B16</text>
<circle cx="162" cy="344.3" r="3.3" fill="#9c9c9c" stroke="#000" stroke-width="1.1"/>
<text x="170.5" y="347" font-size="8.3" text-anchor="start" font-weight="normal" font-style="normal" fill="#000" >B16/IFNγ-6h</text>
<circle cx="162" cy="357.5" r="3.3" fill="#fff" stroke="#000" stroke-width="1.2"/>
<text x="170.5" y="360" font-size="8.3" text-anchor="start" font-weight="normal" font-style="normal" fill="#000" >B16/IFNγ-24h</text>
<path d="M157.9 370L162 365.9L166.1 370L162 374.1Z" fill="#000" stroke="#000" stroke-width="0.5"/>
<text x="170.5" y="372.5" font-size="8.3" text-anchor="start" font-weight="normal" font-style="normal" fill="#000" >B16/IFNγ-24h/Trp2<tspan font-size="6" dy="1.8">180</tspan></text>
<text x="250.3" y="267.2" font-size="13.3" text-anchor="start" font-weight="bold" font-style="normal" fill="#000" >D</text>
<line x1="314.3" y1="281.3" x2="314.3" y2="401.5" stroke="#000" stroke-width="1.1" />
<line x1="313.8" y1="401" x2="394.2" y2="401" stroke="#000" stroke-width="1.1" />
<line x1="311.6" y1="401" x2="314.3" y2="401" stroke="#000" stroke-width="1" />
<text x="311" y="403.7" font-size="7.5" text-anchor="end" font-weight="normal" font-style="normal" fill="#000" >0</text>
<line x1="311.6" y1="377.5" x2="314.3" y2="377.5" stroke="#000" stroke-width="1" />
<text x="311" y="380.2" font-size="7.5" text-anchor="end" font-weight="normal" font-style="normal" fill="#000" >300</text>
<line x1="311.6" y1="353.8" x2="314.3" y2="353.8" stroke="#000" stroke-width="1" />
<text x="311" y="356.5" font-size="7.5" text-anchor="end" font-weight="normal" font-style="normal" fill="#000" >600</text>
<line x1="311.6" y1="330" x2="314.3" y2="330" stroke="#000" stroke-width="1" />
<text x="311" y="332.7" font-size="7.5" text-anchor="end" font-weight="normal" font-style="normal" fill="#000" >900</text>
<line x1="311.6" y1="306.3" x2="314.3" y2="306.3" stroke="#000" stroke-width="1" />
<text x="311" y="309.0" font-size="7.5" text-anchor="end" font-weight="normal" font-style="normal" fill="#000" >1200</text>
<line x1="311.6" y1="284.3" x2="314.3" y2="284.3" stroke="#000" stroke-width="1" />
<text x="311" y="287.0" font-size="7.5" text-anchor="end" font-weight="normal" font-style="normal" fill="#000" >1700</text>
<rect x="317.2" y="399.3" width="13.8" height="1.7" fill="#000"/>
<line x1="324.1" y1="398.8" x2="324.1" y2="399.3" stroke="#000" stroke-width="1" />
<line x1="320.40000000000003" y1="398.8" x2="327.8" y2="398.8" stroke="#000" stroke-width="1" />
<rect x="337.3" y="294.5" width="14.0" height="106.5" fill="#000"/>
<line x1="344.3" y1="286.3" x2="344.3" y2="294.5" stroke="#000" stroke-width="1" />
<line x1="340.6" y1="286.3" x2="348.0" y2="286.3" stroke="#000" stroke-width="1" />
<rect x="357.4" y="314.3" width="13.7" height="86.7" fill="#000"/>
<line x1="364.25" y1="309.3" x2="364.25" y2="314.3" stroke="#000" stroke-width="1" />
<line x1="360.55" y1="309.3" x2="367.95" y2="309.3" stroke="#000" stroke-width="1" />
<rect x="377.3" y="365.6" width="13.9" height="35.4" fill="#000"/>
<line x1="384.25" y1="362.5" x2="384.25" y2="365.6" stroke="#000" stroke-width="1" />
<line x1="380.55" y1="362.5" x2="387.95" y2="362.5" stroke="#000" stroke-width="1" />
<rect x="336" y="304.9" width="17" height="1.6" fill="#fff"/>
<polyline points="361.3,302.5 361.3,300 388,300 388,302.5" fill="none" stroke="#222" stroke-width="1.1"/>
<text x="359.8" y="293.8" font-size="6.6" text-anchor="start" font-weight="normal" font-style="normal" fill="#222" ><tspan font-style="italic">P</tspan> = .0134</text>
<text x="0" y="0" font-size="10.4" text-anchor="middle" font-weight="normal" font-style="normal" fill="#000" transform="translate(289.3,340.3) rotate(-90)">IFNγ spots/1 x 10<tspan font-size="7.5" dy="-4.5">5</tspan><tspan dy="4.5" font-size="10.4"> CD8</tspan><tspan font-size="7.5" dy="-4.5">+</tspan><tspan dy="4.5" font-size="10.4"> T cells</tspan></text>
<text x="0" y="0" font-size="8.4" text-anchor="end" font-weight="normal" font-style="normal" fill="#000" transform="translate(326.6,411.0) rotate(-45)">EL4</text>
<text x="0" y="0" font-size="8.4" text-anchor="end" font-weight="normal" font-style="normal" fill="#000" transform="translate(347.0,411.0) rotate(-45)">EL4/Trp2<tspan font-size="6.9" dy="2.3">180</tspan></text>
<text x="0" y="0" font-size="8.4" text-anchor="end" font-weight="normal" font-style="normal" fill="#000" transform="translate(366.3,410.6) rotate(-45)">B16</text>
<text x="0" y="0" font-size="8.4" text-anchor="end" font-weight="normal" font-style="normal" fill="#000" transform="translate(386.8,410.6) rotate(-45)">B16/IFNγ</text>
<line x1="323.7" y1="401" x2="323.7" y2="403.8" stroke="#000" stroke-width="1" />
<line x1="343.8" y1="401" x2="343.8" y2="403.8" stroke="#000" stroke-width="1" />
<line x1="363.8" y1="401" x2="363.8" y2="403.8" stroke="#000" stroke-width="1" />
<line x1="383.9" y1="401" x2="383.9" y2="403.8" stroke="#000" stroke-width="1" />
<line x1="446.0" y1="401" x2="446.0" y2="403.8" stroke="#000" stroke-width="1" />
<line x1="466.1" y1="401" x2="466.1" y2="403.8" stroke="#000" stroke-width="1" />
<line x1="486.2" y1="401" x2="486.2" y2="403.8" stroke="#000" stroke-width="1" />
<line x1="506.4" y1="401" x2="506.4" y2="403.8" stroke="#000" stroke-width="1" />
<line x1="436.8" y1="281.2" x2="436.8" y2="401.5" stroke="#000" stroke-width="1.1" />
<line x1="436.3" y1="401" x2="515" y2="401" stroke="#000" stroke-width="1.1" />
<line x1="434.1" y1="401" x2="436.8" y2="401" stroke="#000" stroke-width="1" />
<text x="433.5" y="403.7" font-size="7.5" text-anchor="end" font-weight="normal" font-style="normal" fill="#000" >0</text>
<line x1="434.1" y1="378" x2="436.8" y2="378" stroke="#000" stroke-width="1" />
<text x="433.5" y="380.7" font-size="7.5" text-anchor="end" font-weight="normal" font-style="normal" fill="#000" >150</text>
<line x1="434.1" y1="354.3" x2="436.8" y2="354.3" stroke="#000" stroke-width="1" />
<text x="433.5" y="357.0" font-size="7.5" text-anchor="end" font-weight="normal" font-style="normal" fill="#000" >300</text>
<line x1="434.1" y1="330.8" x2="436.8" y2="330.8" stroke="#000" stroke-width="1" />
<text x="433.5" y="333.5" font-size="7.5" text-anchor="end" font-weight="normal" font-style="normal" fill="#000" >450</text>
<line x1="434.1" y1="307.1" x2="436.8" y2="307.1" stroke="#000" stroke-width="1" />
<text x="433.5" y="309.8" font-size="7.5" text-anchor="end" font-weight="normal" font-style="normal" fill="#000" >600</text>
<line x1="434.1" y1="283.8" x2="436.8" y2="283.8" stroke="#000" stroke-width="1" />
<text x="433.5" y="286.5" font-size="7.5" text-anchor="end" font-weight="normal" font-style="normal" fill="#000" >750</text>
<rect x="440" y="396" width="13.8" height="5" fill="#000"/>
<line x1="446.9" y1="394.8" x2="446.9" y2="396" stroke="#000" stroke-width="1" />
<line x1="443.2" y1="394.8" x2="450.59999999999997" y2="394.8" stroke="#000" stroke-width="1" />
<rect x="460" y="294.1" width="13.8" height="106.9" fill="#000"/>
<line x1="466.9" y1="293.6" x2="466.9" y2="294.1" stroke="#000" stroke-width="1" />
<line x1="463.2" y1="293.6" x2="470.59999999999997" y2="293.6" stroke="#000" stroke-width="1" />
<rect x="479.5" y="310.6" width="14.0" height="90.4" fill="#000"/>
<line x1="486.5" y1="306.2" x2="486.5" y2="310.6" stroke="#000" stroke-width="1" />
<line x1="482.8" y1="306.2" x2="490.2" y2="306.2" stroke="#000" stroke-width="1" />
<rect x="499.6" y="356.6" width="13.8" height="44.4" fill="#000"/>
<line x1="506.5" y1="353.4" x2="506.5" y2="356.6" stroke="#000" stroke-width="1" />
<line x1="502.8" y1="353.4" x2="510.2" y2="353.4" stroke="#000" stroke-width="1" />
<polyline points="485.4,301 485.4,298.5 509.3,298.5 509.3,301" fill="none" stroke="#222" stroke-width="1.1"/>
<text x="482.4" y="293.8" font-size="6.6" text-anchor="start" font-weight="normal" font-style="normal" fill="#222" ><tspan font-style="italic">P</tspan> = .0142</text>
<text x="0" y="0" font-size="10.15" text-anchor="middle" font-weight="normal" font-style="normal" fill="#000" transform="translate(414.4,341.8) rotate(-90)">TNFα spots/1 x 10<tspan font-size="7.3" dy="-4.5">5</tspan><tspan dy="4.5" font-size="10.15"> CD8</tspan><tspan font-size="7.3" dy="-4.5">+</tspan><tspan dy="4.5" font-size="10.15"> T cells</tspan></text>
<text x="0" y="0" font-size="8.4" text-anchor="end" font-weight="normal" font-style="normal" fill="#000" transform="translate(449.4,411.0) rotate(-45)">EL4</text>
<text x="0" y="0" font-size="8.4" text-anchor="end" font-weight="normal" font-style="normal" fill="#000" transform="translate(469.8,411.0) rotate(-45)">EL4/Trp2<tspan font-size="6.9" dy="2.3">180</tspan></text>
<text x="0" y="0" font-size="8.4" text-anchor="end" font-weight="normal" font-style="normal" fill="#000" transform="translate(488.8,410.6) rotate(-45)">B16</text>
<text x="0" y="0" font-size="8.4" text-anchor="end" font-weight="normal" font-style="normal" fill="#000" transform="translate(509.4,410.6) rotate(-45)">B16/IFNγ</text>
</svg>
</body></html>
